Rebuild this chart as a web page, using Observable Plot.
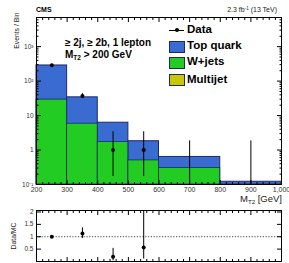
<!DOCTYPE html>
<html>
<head>
<meta charset="utf-8">
<script src="https://cdn.jsdelivr.net/npm/d3@7"></script>
<script src="https://cdn.jsdelivr.net/npm/@observablehq/plot@0.6"></script>
<style>
  html, body { margin: 0; padding: 0; background: #fff; }
  #wrap { position: relative; width: 289px; height: 263px; overflow: hidden; font-family: "Liberation Sans", Arial, sans-serif; }
  #wrap svg { display: block; }
  .lbl { position: absolute; white-space: nowrap; line-height: 1; color: #000; }
  .lbl sub { font-size: 65%; vertical-align: -0.35em; line-height: 0; }
  .sw { position: absolute; width: 14px; height: 10px; border: 1px solid #1c2a6b; }
</style>
</head>
<body>
<div id="wrap"></div>
<script>
// ---- data ----
const binEdges = [200, 300, 400, 500, 600, 800, 1000];
const topQuark = [255, 28, 4.5, 1.3, 0.33, 0.12];   // stacked on top of W+jets
const wJets    = [29, 5.8, 1.7, 0.5, 0.3, 0];
const multijet = [0, 0, 0, 0, 0, 0];

const dataX  = [250, 350, 450, 550, 700, 900];
const dataN  = [290, 37, 1, 1, 0, 0];
const dataLo = [273, 31, 0.17, 0.17, 0, 0];
const dataHi = [307, 43.5, 3.4, 3.4, 1.84, 1.84];

const ratioX  = [250, 350, 450, 550];
const ratioV  = [1.0, 1.13, 0.19, 0.57];
const ratioLo = [0.95, 0.93, 0.03, 0.10];
const ratioHi = [1.05, 1.36, 0.53, 2.6];

const xMajor = [200, 300, 400, 500, 600, 700, 800, 900, 1000];
const yLogLabels = {0.1: "10⁻¹", 1: "1", 10: "10", 100: "10²", 1000: "10³"};
const ratioTicks = [0.5, 1, 1.5, 2];

const colTop = "#3a6bd0", colW = "#22cc22", colMJ = "#c8c800", colLine = "#1c2a6b";

// ---- derived tables ----
const yFloor = 0.1, yTop = 7000;
const bins = binEdges.slice(0, -1).map((x1, i) => ({
  x1, x2: binEdges[i + 1], w: wJets[i], top: topQuark[i], mj: multijet[i]
}));
const pts = dataX.map((x, i) => ({x, n: dataN[i], lo: dataLo[i], hi: dataHi[i]}));
const rpts = ratioX.map((x, i) => ({x, v: ratioV[i], lo: ratioLo[i], hi: ratioHi[i]}));
const xMinor = d3.range(200, 1001, 20).filter(v => !xMajor.includes(v));
const yMajor = [0.1, 1, 10, 100, 1000];
const yMinor = [];
for (const dec of [0.1, 1, 10, 100, 1000]) for (let k = 2; k <= 9; k++) if (dec * k <= yTop) yMinor.push(dec * k);

const style = {fontFamily: "'Liberation Sans', Arial, sans-serif", fontSize: "7px", background: "transparent", overflow: "visible"};
const blank = () => "";

function inwardX(ticks, size) {
  return [
    Plot.axisX({anchor: "bottom", ticks, tickSize: -size, tickFormat: blank, label: null}),
    Plot.axisX({anchor: "top", ticks, tickSize: -size, tickFormat: blank, label: null})
  ];
}
function inwardY(ticks, size) {
  return [
    Plot.axisY({anchor: "left", ticks, tickSize: -size, tickFormat: blank, label: null}),
    Plot.axisY({anchor: "right", ticks, tickSize: -size, tickFormat: blank, label: null})
  ];
}

const main = Plot.plot({
  width: 289, height: 205,
  marginLeft: 36, marginRight: 8, marginTop: 17, marginBottom: 21,
  style,
  x: {domain: [200, 1000]},
  y: {type: "log", domain: [yFloor, yTop]},
  marks: [
    Plot.rectY(bins.filter(d => d.w + d.top + d.mj > 0), {
      x1: "x1", x2: "x2", y1: yFloor, y2: d => d.w + d.top + d.mj, fill: colTop, stroke: colLine, strokeWidth: 1
    }),
    Plot.rectY(bins.filter(d => d.w > 0), {
      x1: "x1", x2: "x2", y1: yFloor, y2: "w", fill: colW, stroke: colLine, strokeWidth: 0.8
    }),
    Plot.ruleX(pts, {x: "x", y1: d => Math.max(d.lo, yFloor), y2: "hi", stroke: "#000", strokeWidth: 1}),
    Plot.dot(pts.filter(d => d.n > 0), {x: "x", y: "n", r: 2, fill: "#000"}),
    Plot.frame({stroke: "#000"}),
    Plot.axisX({anchor: "bottom", ticks: xMajor, tickSize: 0, tickPadding: 3, label: null, fill: "#333"}),
    ...inwardX(xMajor, 4),
    ...inwardX(xMinor, 2),
    Plot.axisY({anchor: "left", ticks: yMajor, tickSize: 0, tickPadding: 3, tickFormat: d => yLogLabels[d], label: null, fill: "#333", fontSize: 6.5}),
    ...inwardY(yMajor, 5),
    ...inwardY(yMinor, 2.5),
    Plot.text(["Events / Bin"], {frameAnchor: "top-left", rotate: -90, textAnchor: "end", dx: -22.5, dy: -5, fontSize: 6.8, fill: "#222"})
  ]
});

const ratio = Plot.plot({
  width: 289, height: 58,
  marginLeft: 36, marginRight: 8, marginTop: 5, marginBottom: 2,
  style,
  x: {domain: [200, 1000]},
  y: {domain: [0, 2.06]},
  marks: [
    Plot.ruleY([1], {stroke: "#444", strokeDasharray: "1.2,1.6", strokeWidth: 1}),
    Plot.ruleX(rpts, {x: "x", y1: "lo", y2: "hi", stroke: "#000", strokeWidth: 1, clip: true}),
    Plot.dot(rpts, {x: "x", y: "v", r: 2, fill: "#000"}),
    Plot.frame({stroke: "#000"}),
    ...inwardX(xMajor, 4),
    ...inwardX(xMinor, 2),
    Plot.axisY({anchor: "left", ticks: ratioTicks, tickSize: 0, tickPadding: 3, tickFormat: d => String(d), label: null, fill: "#333", fontSize: 6.5}),
    ...inwardY(ratioTicks, 5),
    Plot.text(["Data/MC"], {frameAnchor: "left", rotate: -90, textAnchor: "middle", dx: -22.5, fontSize: 6.8, fill: "#222"})
  ]
});

const wrap = document.getElementById("wrap");
wrap.appendChild(main);
wrap.appendChild(ratio);

function label(html, css) {
  const d = document.createElement("div");
  d.className = "lbl";
  d.innerHTML = html;
  Object.assign(d.style, css);
  wrap.appendChild(d);
  return d;
}
function swatch(color, css) {
  const d = document.createElement("div");
  d.className = "sw";
  d.style.background = color;
  Object.assign(d.style, css);
  wrap.appendChild(d);
}

label("CMS", {left: "36px", top: "5.5px", fontSize: "7px", fontWeight: "bold"});
label("2.3 fb<sup style='font-size:65%;line-height:0;vertical-align:0.45em'>-1</sup> (13 TeV)", {right: "12px", top: "6px", fontSize: "7px", color: "#222"});
label("≥ 2j, ≥ 2b, 1 lepton", {left: "65px", top: "38.3px", fontSize: "10px", fontWeight: "bold"});
label("M<sub>T2</sub> &gt; 200 GeV", {left: "65px", top: "50px", fontSize: "10px", fontWeight: "bold"});
label("M<sub>T2</sub> [GeV]", {right: "7px", top: "193.5px", fontSize: "9.5px", color: "#222"});

// legend
const legX = 169;
const dl = document.createElement("div");
Object.assign(dl.style, {position: "absolute", left: legX + "px", top: "29.5px", width: "15px", height: "1px", background: "#000"});
wrap.appendChild(dl);
const dd = document.createElement("div");
Object.assign(dd.style, {position: "absolute", left: (legX + 5.5) + "px", top: "28px", width: "4px", height: "4px", borderRadius: "50%", background: "#000"});
wrap.appendChild(dd);
label("Data", {left: "187px", top: "24.3px", fontSize: "11.5px", fontWeight: "bold"});
swatch(colTop, {left: legX + "px", top: "40.5px"});
label("Top quark", {left: "187px", top: "39.8px", fontSize: "11.5px", fontWeight: "bold"});
swatch(colW, {left: legX + "px", top: "57.3px"});
label("W+jets", {left: "187px", top: "56.4px", fontSize: "11.5px", fontWeight: "bold"});
swatch(colMJ, {left: legX + "px", top: "74.3px"});
label("Multijet", {left: "187px", top: "73.5px", fontSize: "11.5px", fontWeight: "bold"});
</script>
</body>
</html>
